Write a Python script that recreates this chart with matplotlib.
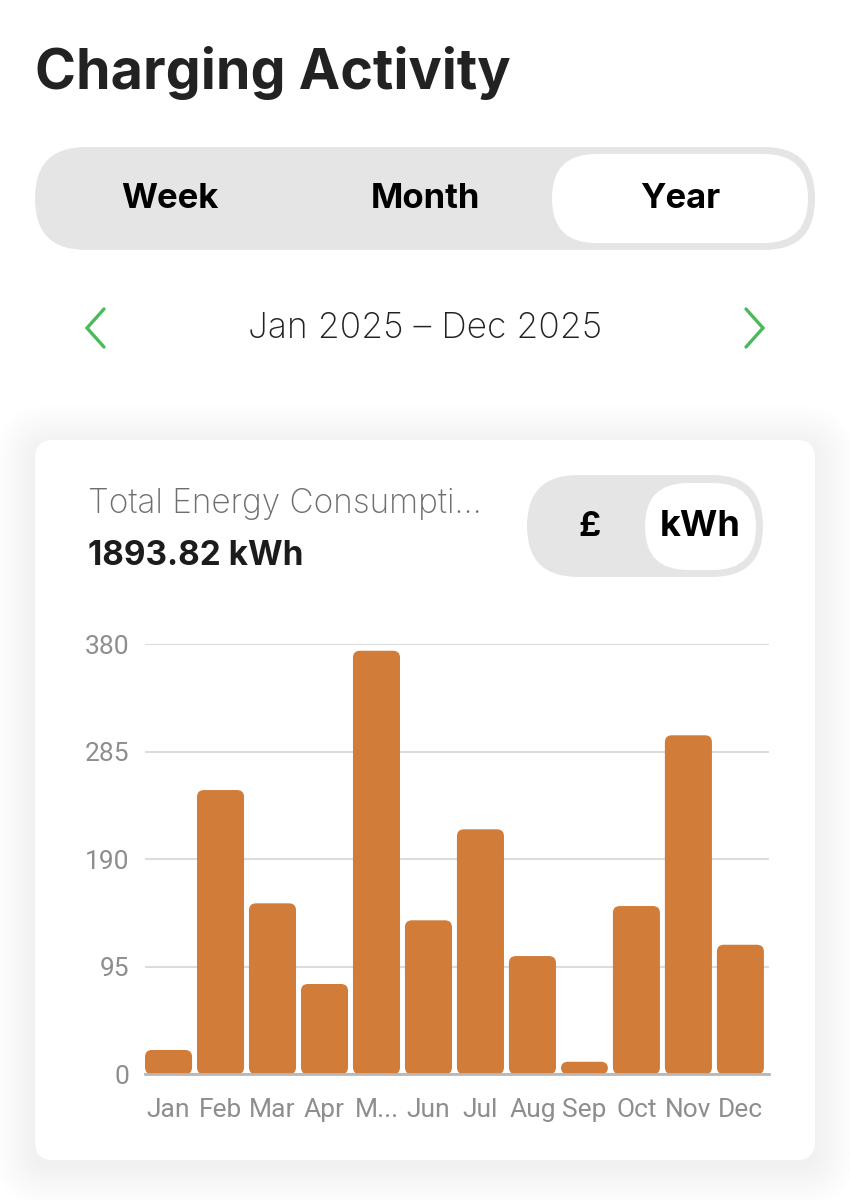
import numpy as np
import matplotlib
matplotlib.use('Agg')
import matplotlib.pyplot as plt
from matplotlib.patches import FancyBboxPatch

# data
months = ['Jan', 'Feb', 'Mar', 'Apr', 'M...', 'Jun', 'Jul', 'Aug', 'Sep', 'Oct', 'Nov', 'Dec']
energy_kwh = [21.5, 251.2, 151.1, 79.8, 374.3, 136.1, 216.5, 104.5, 11.1, 148.7, 299.6, 114.5]
y_ticks = [0, 95, 190, 285, 380]
total_label = '1893.82 kWh'
period_tabs = ['Week', 'Month', 'Year']
unit_tabs = ['£', 'kWh']

W, H = 850, 1200
BAR = '#d27c3a'
HEAD = 'Inter'
BODY = 'Roboto'

fig = plt.figure(figsize=(W / 100, H / 100), dpi=100)
fig.patch.set_facecolor('white')

# background axes in pixel coords for the app chrome
bg = fig.add_axes([0, 0, 1, 1], zorder=0)
bg.set_xlim(0, W)
bg.set_ylim(H, 0)
bg.axis('off')

def rbox(x0, y0, x1, y1, r, fc, ec='none', lw=0, alpha=1, z=1):
    p = FancyBboxPatch((x0 + r, y0 + r), (x1 - x0) - 2 * r, (y1 - y0) - 2 * r,
                       boxstyle='round,pad=%f' % r, fc=fc, ec=ec, lw=lw,
                       alpha=alpha, zorder=z)
    bg.add_patch(p)
    return p

bg.text(35, 89, 'Charging Activity', fontsize=40, fontweight='bold',
        family=[HEAD, 'DejaVu Sans'], color='#222222', va='baseline', ha='left')

# period toggle
rbox(35, 147, 815, 250, 51, '#e5e5e5')
rbox(552, 154, 808, 243, 44, 'white', z=2)
for txt, cx in zip(period_tabs, [170, 425, 680]):
    bg.text(cx, 199, txt, fontsize=25, fontweight='bold', family=[HEAD, 'DejaVu Sans'],
            color='black', ha='center', va='center', zorder=3)

# date row
bg.plot([104, 87, 104], [309, 328, 347], color='#4cba5b', lw=2.4, solid_capstyle='round',
        solid_joinstyle='miter')
bg.plot([746, 763, 746], [309, 328, 347], color='#4cba5b', lw=2.4, solid_capstyle='round',
        solid_joinstyle='miter')
bg.text(425, 328, 'Jan 2025 \u2013 Dec 2025', fontsize=25.5, family=[HEAD, 'DejaVu Sans'],
        fontweight='light', color='#222222', ha='center', va='center')

# card with soft shadow
for i in range(14):
    g = 2 + i * 3
    rbox(35 - g, 440 - g + 6, 815 + g, 1160 + g + 6, 18 + g, 'black', alpha=0.0045, z=1)
rbox(35, 440, 815, 1160, 18, 'white', z=2)

bg.text(88, 513, 'Total Energy Consumpti...', fontsize=24, family=[HEAD, 'DejaVu Sans'],
        fontweight='light', color='#6e6e6e', ha='left', va='baseline', zorder=3)
bg.text(88, 565, total_label, fontsize=24, fontweight='bold', family=[HEAD, 'DejaVu Sans'],
        color='#1c1c1c', ha='left', va='baseline', zorder=3)

# unit toggle
rbox(527, 475, 763, 577, 51, '#e5e5e5', z=3)
rbox(645, 483, 756, 570, 43, 'white', z=4)
for txt, cx, fs in zip(unit_tabs, [590, 700], [25, 26]):
    bg.text(cx, 527, txt, fontsize=fs, fontweight='bold', family=[HEAD, 'DejaVu Sans'],
            color='black', ha='center', va='center', zorder=5)

# bar chart
x0, x1, ytop, ybot = 145, 769, 644.3, 1074.3
ax = fig.add_axes([x0 / W, 1 - ybot / H, (x1 - x0) / W, (ybot - ytop) / H], zorder=1)
ax.patch.set_alpha(0)
x = np.arange(len(months))
bars = ax.bar(x, energy_kwh, width=0.905, color=BAR)
ax.set_xlim(-0.4525, 11.55)
ax.set_ylim(0, 380)

# rounded corners: rebuild each bar as a rounded box
px_x = (x1 - x0) / 12.0025
px_y = (ybot - ytop) / 380
for b in bars:
    b.set_visible(False)
    r = 7 / px_x
    p = FancyBboxPatch((b.get_x() + r, b.get_y() + r * px_x / px_y),
                       b.get_width() - 2 * r, b.get_height() - 2 * r * px_x / px_y,
                       boxstyle='round,pad=%f' % r, mutation_aspect=px_x / px_y,
                       fc=BAR, ec='none', zorder=3)
    ax.add_patch(p)

ax.set_yticks(y_ticks)
ax.set_xticks(x)
ax.set_xticklabels(months)
ax.yaxis.grid(True, color='#dcdcdc', lw=1.5)
ax.set_axisbelow(True)
for s in ['top', 'right', 'left']:
    ax.spines[s].set_visible(False)
ax.spines['bottom'].set_color('#b8b8b8')
ax.spines['bottom'].set_linewidth(2)
ax.spines['bottom'].set_zorder(4)
ax.tick_params(axis='both', length=0, labelsize=19, labelcolor='#8e8e8e')
ax.tick_params(axis='x', pad=17)
ax.tick_params(axis='y', pad=11)
for lab in ax.get_xticklabels() + ax.get_yticklabels():
    lab.set_family([BODY, 'DejaVu Sans'])

fig.savefig('out.png', dpi=100, facecolor='white')
